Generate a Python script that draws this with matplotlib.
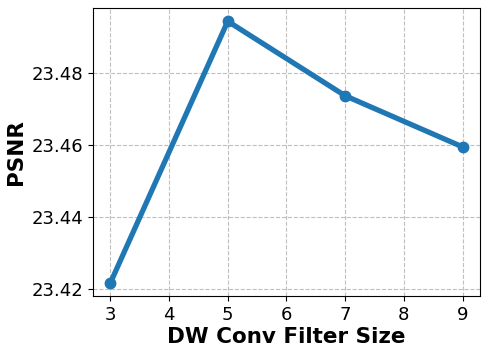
import matplotlib
matplotlib.use("Agg")
import matplotlib.pyplot as plt

filter_sizes = [3, 5, 7, 9]
psnr = [23.4216, 23.4943, 23.4736, 23.4594]
yticks = [23.42, 23.44, 23.46, 23.48]

fig, ax = plt.subplots(figsize=(4.88, 3.55), dpi=100)
ax.plot(filter_sizes, psnr, color="#1f77b4", linewidth=3.8, marker="o", markersize=7.5)
ax.set_xticks(range(3, 10))
ax.set_yticks(yticks)
ax.set_yticklabels([f"{v:.2f}" for v in yticks])
ax.tick_params(labelsize=13)
ax.set_xlabel("DW Conv Filter Size", fontsize=15.5, fontweight="bold", labelpad=2)
ax.set_ylabel("PSNR", fontsize=15.5, fontweight="bold", labelpad=4)
ax.grid(True, linestyle="--", color="gray", alpha=0.5)
fig.subplots_adjust(left=0.19, right=0.984, top=0.977, bottom=0.166)
fig.savefig("out.png", dpi=100)
